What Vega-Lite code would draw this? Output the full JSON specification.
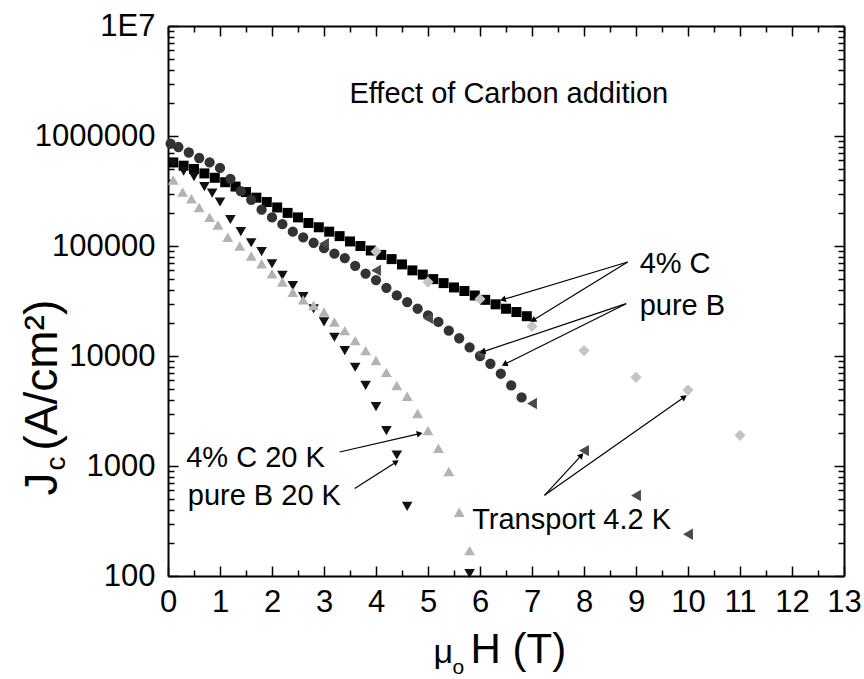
{
  "$schema": "https://vega.github.io/schema/vega-lite/v6.json",
  "width": 676,
  "height": 550,
  "autosize": {"type": "none"},
  "padding": {"left": 168, "top": 26, "right": 20, "bottom": 103},
  "background": "white",
  "config": {
    "view": {"stroke": null},
    "axis": {
      "grid": false,
      "labelFlush": false,
      "labelOverlap": false,
      "domainColor": "#000",
      "domainWidth": 2,
      "tickColor": "#000",
      "tickWidth": 1.5,
      "labelFont": "Liberation Sans",
      "labelFontSize": 31,
      "labelColor": "#000",
      "titleFont": "Liberation Sans",
      "titleColor": "#000",
      "titleFontWeight": "normal"
    }
  },
  "datasets": {
    "points": [
      {"s": "4% C 4.2 K", "H": 0.1, "Jc": 575000}, {"s": "4% C 4.2 K", "H": 0.3, "Jc": 537000}, {"s": "4% C 4.2 K", "H": 0.5, "Jc": 501000}, {"s": "4% C 4.2 K", "H": 0.7, "Jc": 457000}, {"s": "4% C 4.2 K", "H": 0.9, "Jc": 417000}, {"s": "4% C 4.2 K", "H": 1.1, "Jc": 380000}, {"s": "4% C 4.2 K", "H": 1.3, "Jc": 347000}, {"s": "4% C 4.2 K", "H": 1.5, "Jc": 309000}, {"s": "4% C 4.2 K", "H": 1.7, "Jc": 275000}, {"s": "4% C 4.2 K", "H": 1.9, "Jc": 251000}, {"s": "4% C 4.2 K", "H": 2.1, "Jc": 224000}, {"s": "4% C 4.2 K", "H": 2.3, "Jc": 200000}, {"s": "4% C 4.2 K", "H": 2.5, "Jc": 182000}, {"s": "4% C 4.2 K", "H": 2.7, "Jc": 162000}, {"s": "4% C 4.2 K", "H": 2.9, "Jc": 148000}, {"s": "4% C 4.2 K", "H": 3.1, "Jc": 135000}, {"s": "4% C 4.2 K", "H": 3.3, "Jc": 123000}, {"s": "4% C 4.2 K", "H": 3.5, "Jc": 110000}, {"s": "4% C 4.2 K", "H": 3.7, "Jc": 100000}, {"s": "4% C 4.2 K", "H": 3.9, "Jc": 91000}, {"s": "4% C 4.2 K", "H": 4.1, "Jc": 83000}, {"s": "4% C 4.2 K", "H": 4.3, "Jc": 76000}, {"s": "4% C 4.2 K", "H": 4.5, "Jc": 68000}, {"s": "4% C 4.2 K", "H": 4.7, "Jc": 60000}, {"s": "4% C 4.2 K", "H": 4.9, "Jc": 55000}, {"s": "4% C 4.2 K", "H": 5.1, "Jc": 50000}, {"s": "4% C 4.2 K", "H": 5.3, "Jc": 46000}, {"s": "4% C 4.2 K", "H": 5.5, "Jc": 42000}, {"s": "4% C 4.2 K", "H": 5.7, "Jc": 39000}, {"s": "4% C 4.2 K", "H": 5.9, "Jc": 35500}, {"s": "4% C 4.2 K", "H": 6.1, "Jc": 32400}, {"s": "4% C 4.2 K", "H": 6.3, "Jc": 29500}, {"s": "4% C 4.2 K", "H": 6.5, "Jc": 26900}, {"s": "4% C 4.2 K", "H": 6.7, "Jc": 25100}, {"s": "4% C 4.2 K", "H": 6.9, "Jc": 23000},
      {"s": "pure B 4.2 K", "H": 0.05, "Jc": 851000}, {"s": "pure B 4.2 K", "H": 0.2, "Jc": 794000}, {"s": "pure B 4.2 K", "H": 0.4, "Jc": 708000}, {"s": "pure B 4.2 K", "H": 0.6, "Jc": 631000}, {"s": "pure B 4.2 K", "H": 0.8, "Jc": 575000}, {"s": "pure B 4.2 K", "H": 1.0, "Jc": 513000}, {"s": "pure B 4.2 K", "H": 1.2, "Jc": 407000}, {"s": "pure B 4.2 K", "H": 1.4, "Jc": 316000}, {"s": "pure B 4.2 K", "H": 1.6, "Jc": 263000}, {"s": "pure B 4.2 K", "H": 1.8, "Jc": 214000}, {"s": "pure B 4.2 K", "H": 2.0, "Jc": 182000}, {"s": "pure B 4.2 K", "H": 2.2, "Jc": 158000}, {"s": "pure B 4.2 K", "H": 2.4, "Jc": 135000}, {"s": "pure B 4.2 K", "H": 2.6, "Jc": 120000}, {"s": "pure B 4.2 K", "H": 2.8, "Jc": 107000}, {"s": "pure B 4.2 K", "H": 3.0, "Jc": 95500}, {"s": "pure B 4.2 K", "H": 3.2, "Jc": 85100}, {"s": "pure B 4.2 K", "H": 3.4, "Jc": 77600}, {"s": "pure B 4.2 K", "H": 3.6, "Jc": 66100}, {"s": "pure B 4.2 K", "H": 3.8, "Jc": 56200}, {"s": "pure B 4.2 K", "H": 4.0, "Jc": 49000}, {"s": "pure B 4.2 K", "H": 4.2, "Jc": 41700}, {"s": "pure B 4.2 K", "H": 4.4, "Jc": 35500}, {"s": "pure B 4.2 K", "H": 4.6, "Jc": 30900}, {"s": "pure B 4.2 K", "H": 4.8, "Jc": 26900}, {"s": "pure B 4.2 K", "H": 5.0, "Jc": 23400}, {"s": "pure B 4.2 K", "H": 5.2, "Jc": 20400}, {"s": "pure B 4.2 K", "H": 5.4, "Jc": 17000}, {"s": "pure B 4.2 K", "H": 5.6, "Jc": 14500}, {"s": "pure B 4.2 K", "H": 5.8, "Jc": 12000}, {"s": "pure B 4.2 K", "H": 6.0, "Jc": 10000}, {"s": "pure B 4.2 K", "H": 6.2, "Jc": 8500}, {"s": "pure B 4.2 K", "H": 6.4, "Jc": 6900}, {"s": "pure B 4.2 K", "H": 6.6, "Jc": 5400}, {"s": "pure B 4.2 K", "H": 6.8, "Jc": 4200},
      {"s": "pure B 20 K", "H": 0.1, "Jc": 562000}, {"s": "pure B 20 K", "H": 0.3, "Jc": 479000}, {"s": "pure B 20 K", "H": 0.5, "Jc": 427000}, {"s": "pure B 20 K", "H": 0.7, "Jc": 347000}, {"s": "pure B 20 K", "H": 0.85, "Jc": 302000}, {"s": "pure B 20 K", "H": 1.0, "Jc": 251000}, {"s": "pure B 20 K", "H": 1.2, "Jc": 174000}, {"s": "pure B 20 K", "H": 1.4, "Jc": 135000}, {"s": "pure B 20 K", "H": 1.6, "Jc": 107000}, {"s": "pure B 20 K", "H": 1.8, "Jc": 89000}, {"s": "pure B 20 K", "H": 2.0, "Jc": 69000}, {"s": "pure B 20 K", "H": 2.2, "Jc": 54000}, {"s": "pure B 20 K", "H": 2.4, "Jc": 43700}, {"s": "pure B 20 K", "H": 2.6, "Jc": 34700}, {"s": "pure B 20 K", "H": 2.8, "Jc": 26900}, {"s": "pure B 20 K", "H": 3.0, "Jc": 20400}, {"s": "pure B 20 K", "H": 3.2, "Jc": 14800}, {"s": "pure B 20 K", "H": 3.4, "Jc": 11200}, {"s": "pure B 20 K", "H": 3.6, "Jc": 7900}, {"s": "pure B 20 K", "H": 3.8, "Jc": 5400}, {"s": "pure B 20 K", "H": 4.0, "Jc": 3470}, {"s": "pure B 20 K", "H": 4.2, "Jc": 2100}, {"s": "pure B 20 K", "H": 4.4, "Jc": 1260}, {"s": "pure B 20 K", "H": 4.6, "Jc": 430}, {"s": "pure B 20 K", "H": 5.8, "Jc": 105},
      {"s": "4% C 20 K", "H": 0.1, "Jc": 398000}, {"s": "4% C 20 K", "H": 0.28, "Jc": 309000}, {"s": "4% C 20 K", "H": 0.45, "Jc": 269000}, {"s": "4% C 20 K", "H": 0.6, "Jc": 224000}, {"s": "4% C 20 K", "H": 0.8, "Jc": 182000}, {"s": "4% C 20 K", "H": 0.96, "Jc": 155000}, {"s": "4% C 20 K", "H": 1.15, "Jc": 120000}, {"s": "4% C 20 K", "H": 1.38, "Jc": 100000}, {"s": "4% C 20 K", "H": 1.6, "Jc": 81000}, {"s": "4% C 20 K", "H": 1.8, "Jc": 69000}, {"s": "4% C 20 K", "H": 2.0, "Jc": 56000}, {"s": "4% C 20 K", "H": 2.2, "Jc": 47000}, {"s": "4% C 20 K", "H": 2.4, "Jc": 38000}, {"s": "4% C 20 K", "H": 2.6, "Jc": 32400}, {"s": "4% C 20 K", "H": 2.8, "Jc": 28800}, {"s": "4% C 20 K", "H": 3.0, "Jc": 25100}, {"s": "4% C 20 K", "H": 3.2, "Jc": 20400}, {"s": "4% C 20 K", "H": 3.4, "Jc": 17000}, {"s": "4% C 20 K", "H": 3.6, "Jc": 13800}, {"s": "4% C 20 K", "H": 3.8, "Jc": 11200}, {"s": "4% C 20 K", "H": 4.0, "Jc": 9100}, {"s": "4% C 20 K", "H": 4.2, "Jc": 7100}, {"s": "4% C 20 K", "H": 4.4, "Jc": 5400}, {"s": "4% C 20 K", "H": 4.6, "Jc": 4300}, {"s": "4% C 20 K", "H": 4.8, "Jc": 3000}, {"s": "4% C 20 K", "H": 5.0, "Jc": 2100}, {"s": "4% C 20 K", "H": 5.2, "Jc": 1450}, {"s": "4% C 20 K", "H": 5.4, "Jc": 890}, {"s": "4% C 20 K", "H": 5.6, "Jc": 380}, {"s": "4% C 20 K", "H": 5.8, "Jc": 170},
      {"s": "4% C transport 4.2 K", "H": 4, "Jc": 89000}, {"s": "4% C transport 4.2 K", "H": 5, "Jc": 47000}, {"s": "4% C transport 4.2 K", "H": 6, "Jc": 33000}, {"s": "4% C transport 4.2 K", "H": 7, "Jc": 18600}, {"s": "4% C transport 4.2 K", "H": 8, "Jc": 11200}, {"s": "4% C transport 4.2 K", "H": 9, "Jc": 6400}, {"s": "4% C transport 4.2 K", "H": 10, "Jc": 4900}, {"s": "4% C transport 4.2 K", "H": 11, "Jc": 1900},
      {"s": "pure B transport 4.2 K", "H": 3, "Jc": 105000}, {"s": "pure B transport 4.2 K", "H": 4, "Jc": 60000}, {"s": "pure B transport 4.2 K", "H": 5, "Jc": 22000}, {"s": "pure B transport 4.2 K", "H": 6, "Jc": 10500}, {"s": "pure B transport 4.2 K", "H": 7, "Jc": 3700}, {"s": "pure B transport 4.2 K", "H": 8, "Jc": 1380}, {"s": "pure B transport 4.2 K", "H": 9, "Jc": 540}, {"s": "pure B transport 4.2 K", "H": 10, "Jc": 240}
    ],
    "arrows": [
      {"x": 8.84, "y": 71600, "x2": 6.44, "y2": 32600},
      {"x": 8.84, "y": 71600, "x2": 7.02, "y2": 21100},
      {"x": 8.81, "y": 29900, "x2": 6.05, "y2": 10900},
      {"x": 8.81, "y": 29900, "x2": 6.47, "y2": 8400},
      {"x": 3.30, "y": 1340, "x2": 4.84, "y2": 1970},
      {"x": 3.59, "y": 624, "x2": 4.39, "y2": 1090},
      {"x": 7.24, "y": 541, "x2": 7.95, "y2": 1250},
      {"x": 7.24, "y": 541, "x2": 9.93, "y2": 4240}
    ],
    "labels": [
      {"x": 3.49, "y": 2390000, "t": "Effect of Carbon addition"},
      {"x": 9.07, "y": 68200, "t": "4% C"},
      {"x": 9.07, "y": 28600, "t": "pure B"},
      {"x": 0.35, "y": 1190, "t": "4% C 20 K"},
      {"x": 0.38, "y": 538, "t": "pure B 20 K"},
      {"x": 5.85, "y": 324, "t": "Transport 4.2 K"}
    ]
  },
  "layer": [
    {
      "data": {"name": "points"},
      "mark": {"type": "point", "filled": true, "opacity": 1, "strokeWidth": 0},
      "encoding": {
        "x": {"field": "H", "type": "quantitative",
          "scale": {"domain": [0, 13], "nice": false, "zero": false},
          "axis": {"orient": "bottom", "values": [0,1,2,3,4,5,6,7,8,9,10,11,12,13], "format": "d", "tickSize": -10, "labelPadding": 21,
            "title": "H (T)", "titleFontSize": 42, "titleX": 302, "titleY": 86, "titleAlign": "left", "titleBaseline": "alphabetic", "titleAngle": 0}},
        "y": {"field": "Jc", "type": "quantitative",
          "scale": {"type": "log", "domain": [100, 10000000], "nice": false},
          "axis": {"orient": "left", "values": [100, 1000, 10000, 100000, 1000000, 10000000], "tickSize": -10, "labelPadding": 23,
            "labelExpr": "datum.value >= 10000000 ? '1E7' : format(datum.value, 'd')",
            "title": "J", "titleFontSize": 46, "titleAngle": -90, "titleX": -112, "titleY": 469, "titleAlign": "left", "titleBaseline": "alphabetic"}},
        "shape": {"field": "s", "type": "nominal", "legend": null,
          "scale": {"domain": ["4% C 4.2 K", "pure B 4.2 K", "pure B 20 K", "4% C 20 K", "4% C transport 4.2 K", "pure B transport 4.2 K"],
            "range": ["square", "circle", "triangle-down", "triangle-up", "diamond", "triangle-left"]}},
        "color": {"field": "s", "type": "nominal", "legend": null,
          "scale": {"domain": ["4% C 4.2 K", "pure B 4.2 K", "pure B 20 K", "4% C 20 K", "4% C transport 4.2 K", "pure B transport 4.2 K"],
            "range": ["#000000", "#333333", "#111111", "#b3b3b3", "#c4c4c4", "#4a4a4a"]}},
        "size": {"field": "s", "type": "nominal", "legend": null,
          "scale": {"domain": ["4% C 4.2 K", "pure B 4.2 K", "pure B 20 K", "4% C 20 K", "4% C transport 4.2 K", "pure B transport 4.2 K"],
            "range": [100, 130, 175, 175, 215, 165]}}
      }
    },
    {
      "data": {"name": "arrows"},
      "mark": {"type": "rule", "color": "#000", "strokeWidth": 1.2},
      "encoding": {
        "x": {"field": "x", "type": "quantitative", "scale": {"domain": [0, 13], "nice": false, "zero": false},
          "axis": {"orient": "bottom", "values": [0.5,1.5,2.5,3.5,4.5,5.5,6.5,7.5,8.5,9.5,10.5,11.5,12.5], "tickSize": -6, "labels": false, "domain": false,
            "title": "μ", "titleFontSize": 34, "titleX": 265, "titleY": 86, "titleAlign": "left", "titleBaseline": "alphabetic", "titleAngle": 0}},
        "y": {"field": "y", "type": "quantitative", "scale": {"type": "log", "domain": [100, 10000000], "nice": false},
          "axis": {"orient": "left", "values": [200,300,400,500,600,700,800,900,2000,3000,4000,5000,6000,7000,8000,9000,20000,30000,40000,50000,60000,70000,80000,90000,200000,300000,400000,500000,600000,700000,800000,900000,2000000,3000000,4000000,5000000,6000000,7000000,8000000,9000000],
            "tickSize": -6, "labels": false, "domain": false,
            "title": "c", "titleFontSize": 28, "titleAngle": -90, "titleX": -104, "titleY": 444, "titleAlign": "left", "titleBaseline": "alphabetic"}},
        "x2": {"field": "x2"},
        "y2": {"field": "y2"}
      }
    },
    {
      "data": {"name": "arrows"},
      "transform": [{"calculate": "atan2((log(datum.y) - log(datum.y2)) / LN10 * 110, (datum.x2 - datum.x) * 52) * 180 / PI", "as": "ang"}],
      "mark": {"type": "point", "shape": "triangle-right", "filled": true, "color": "#000", "opacity": 1, "size": 45, "strokeWidth": 0},
      "encoding": {
        "x": {"field": "x2", "type": "quantitative", "scale": {"domain": [0, 13], "nice": false, "zero": false},
          "axis": {"orient": "top", "values": [0,1,2,3,4,5,6,7,8,9,10,11,12,13], "tickSize": -10, "labels": false,
            "title": "(A/cm²)", "titleFontSize": 46, "titleAngle": -90, "titleX": -112, "titleY": 424, "titleAlign": "left", "titleBaseline": "alphabetic"}},
        "y": {"field": "y2", "type": "quantitative", "scale": {"type": "log", "domain": [100, 10000000], "nice": false},
          "axis": {"orient": "right", "values": [100, 1000, 10000, 100000, 1000000, 10000000], "tickSize": -10, "labels": false, "title": null}},
        "angle": {"field": "ang", "type": "quantitative", "scale": null}
      }
    },
    {
      "data": {"name": "labels"},
      "mark": {"type": "text", "align": "left", "baseline": "middle", "font": "Liberation Sans", "fontSize": 29, "color": "#000"},
      "encoding": {
        "x": {"field": "x", "type": "quantitative", "scale": {"domain": [0, 13], "nice": false, "zero": false},
          "axis": {"orient": "top", "values": [0.5,1.5,2.5,3.5,4.5,5.5,6.5,7.5,8.5,9.5,10.5,11.5,12.5], "tickSize": -6, "labels": false, "domain": false,
            "title": "o", "titleFontSize": 21, "titleX": 284, "titleY": 647, "titleAlign": "left", "titleBaseline": "alphabetic", "titleAngle": 0}},
        "y": {"field": "y", "type": "quantitative", "scale": {"type": "log", "domain": [100, 10000000], "nice": false},
          "axis": {"orient": "right", "values": [200,300,400,500,600,700,800,900,2000,3000,4000,5000,6000,7000,8000,9000,20000,30000,40000,50000,60000,70000,80000,90000,200000,300000,400000,500000,600000,700000,800000,900000,2000000,3000000,4000000,5000000,6000000,7000000,8000000,9000000],
            "tickSize": -6, "labels": false, "domain": false, "title": null}},
        "text": {"field": "t", "type": "nominal"}
      }
    }
  ],
  "resolve": {"axis": {"x": "independent", "y": "independent"}}
}
